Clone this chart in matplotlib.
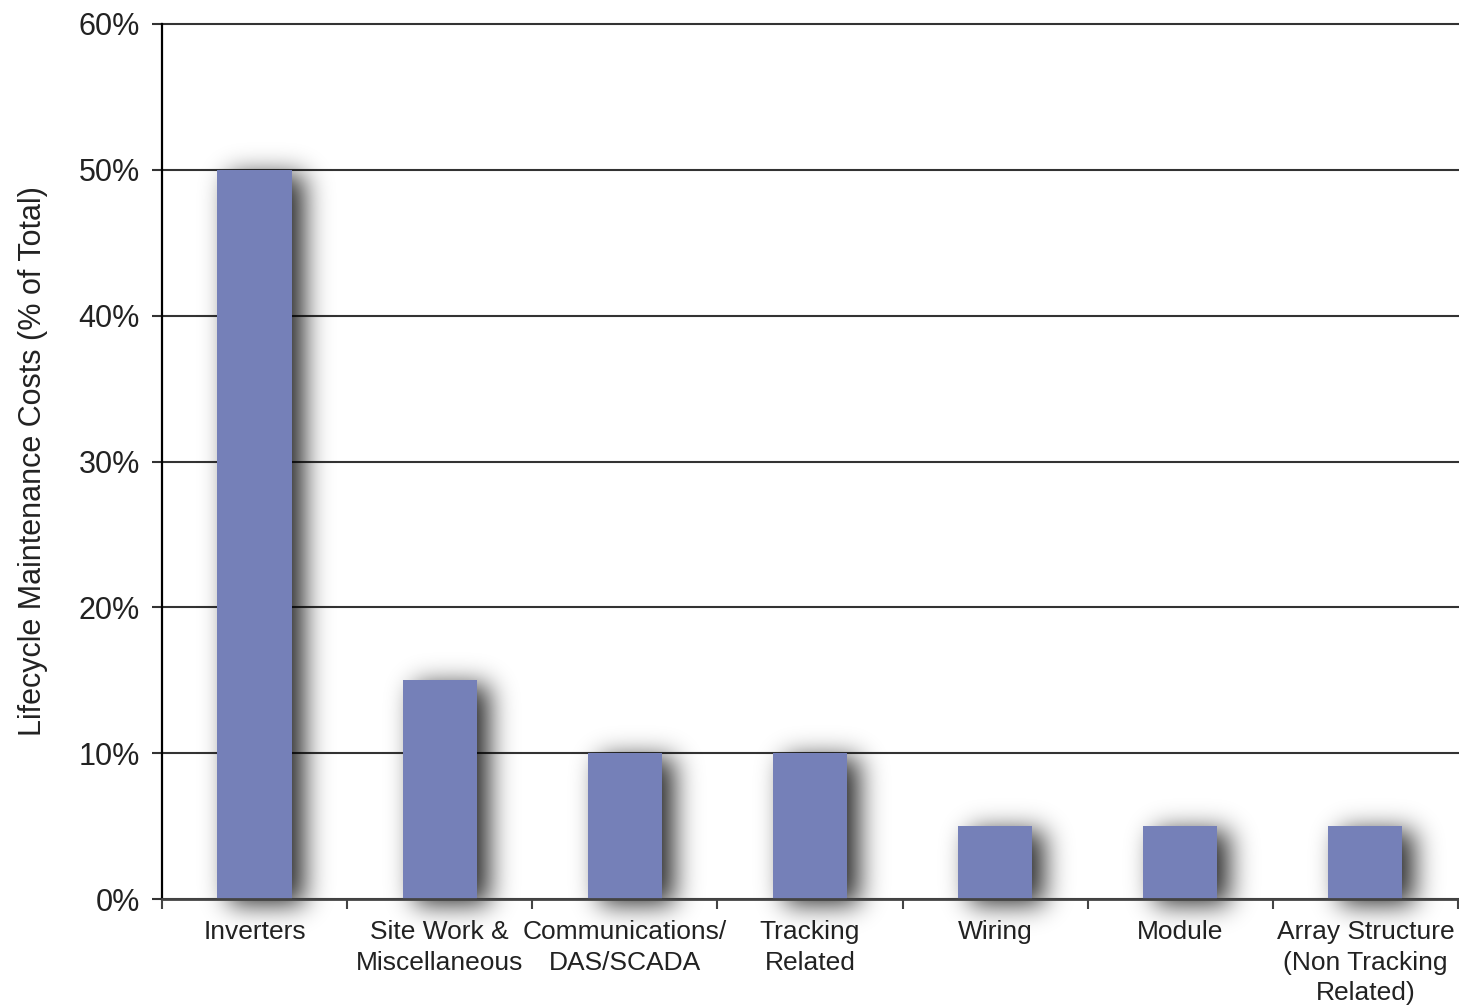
import numpy as np
import matplotlib
matplotlib.use('Agg')
import matplotlib.pyplot as plt

plt.rcParams['font.family'] = ['Liberation Sans', 'DejaVu Sans']

categories = ['Inverters', 'Site Work &\nMiscellaneous', 'Communications/\nDAS/SCADA',
              'Tracking\nRelated', 'Wiring', 'Module',
              'Array Structure\n(Non Tracking\nRelated)']
shares = [50, 15, 10, 10, 5, 5, 5]
yticks = [0, 10, 20, 30, 40, 50, 60]
ytick_labels = ['0%', '10%', '20%', '30%', '40%', '50%', '60%']

bar_color = '#7580b8'


def gauss_blur(a, sigma):
    r = int(3 * sigma)
    x = np.arange(-r, r + 1)
    k = np.exp(-x ** 2 / (2.0 * sigma ** 2))
    k /= k.sum()
    a = np.apply_along_axis(lambda m: np.convolve(m, k, mode='same'), 0, a)
    a = np.apply_along_axis(lambda m: np.convolve(m, k, mode='same'), 1, a)
    return a


def drop_shadow(im, dpi, dx=12, dy=5, sigma=13, alpha=0.85):
    # blurred, shifted copy of the alpha channel painted in black
    pad = 4 * sigma + max(dx, dy)
    h, w = im.shape[:2]
    a = np.zeros((h + 2 * pad, w + 2 * pad))
    a[pad:pad + h, pad:pad + w] = im[:, :, 3]
    a = np.roll(a, dx, axis=1)
    a = np.roll(a, dy, axis=0)
    a = gauss_blur(a, sigma)
    out = np.zeros((h + 2 * pad, w + 2 * pad, 4))
    out[..., 3] = np.clip(a * alpha, 0, 1)
    return out, -pad, -pad


fig = plt.figure(figsize=(14.59, 10.07), dpi=100)
ax = fig.add_axes([0.111, 0.1072, 0.8883, 0.869])

x = np.arange(len(categories))

for y in yticks:
    ax.axhline(y, color='#333333', lw=1.5, zorder=1, clip_on=False)

shadows = ax.bar(x, shares, width=0.4, color='black', zorder=2)
for p in shadows:
    p.set_agg_filter(drop_shadow)
    p.set_rasterized(True)
ax.bar(x, shares, width=0.4, color=bar_color, zorder=3)

ax.set_xlim(-0.5, len(categories) - 0.5)
ax.set_ylim(0, 60)

for side in ['top', 'right']:
    ax.spines[side].set_visible(False)
ax.spines['left'].set_color('black')
ax.spines['left'].set_linewidth(1.6)
ax.spines['bottom'].set_color('#444444')
ax.spines['bottom'].set_linewidth(2)
ax.spines['bottom'].set_zorder(4)

ax.set_yticks(yticks)
ax.set_yticklabels(ytick_labels)
ax.tick_params(axis='y', direction='out', length=7, width=1.5, color='#333333',
               labelsize=22, pad=9, labelcolor='#222222')

ax.set_xticks(x)
ax.set_xticklabels(categories, linespacing=1.35)
ax.set_xticks(np.arange(len(categories) + 1) - 0.5, minor=True)
ax.tick_params(axis='x', which='major', length=0, labelsize=19, pad=15,
               labelcolor='#222222')
ax.tick_params(axis='x', which='minor', direction='out', length=7, width=1.5,
               color='#444444')

ax.set_ylabel('Lifecycle Maintenance Costs (% of Total)', fontsize=22,
              color='#222222', labelpad=22)

fig.savefig('out.png', dpi=100)
